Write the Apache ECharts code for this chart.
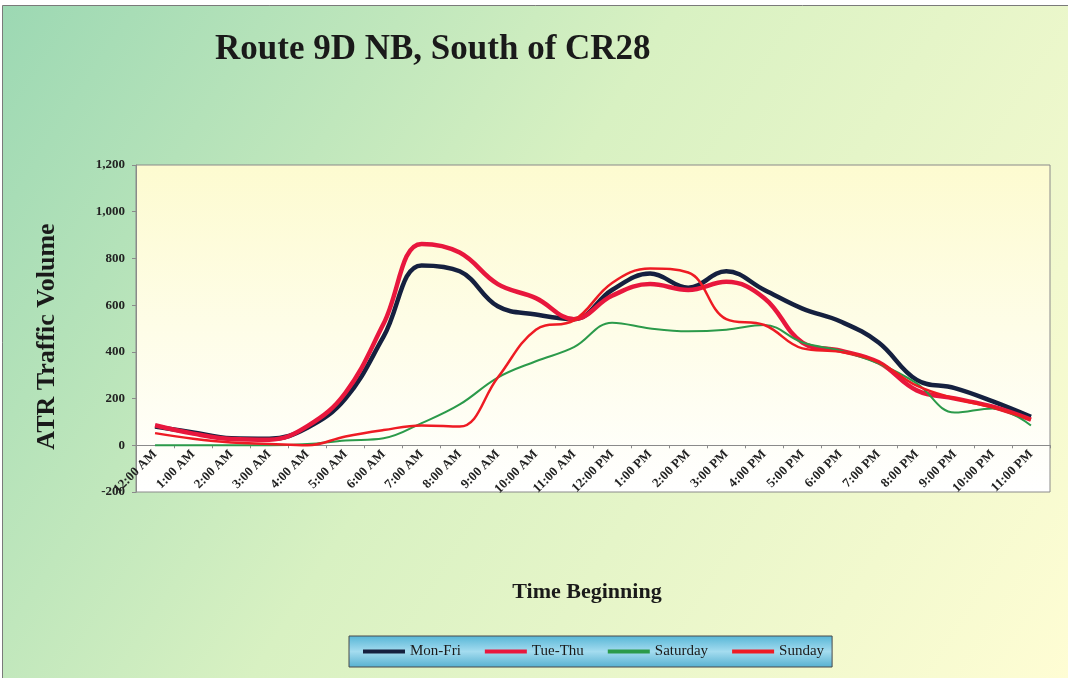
<!DOCTYPE html>
<html>
<head>
<meta charset="utf-8">
<title>Route 9D NB, South of CR28</title>
<script src="https://cdn.jsdelivr.net/npm/echarts@6/dist/echarts.min.js"></script>
<style>
  html, body { margin: 0; padding: 0; background: #fff; }
  #main { width: 1068px; height: 678px; }
</style>
</head>
<body>
<div id="main"></div>
<script>
// 时间分类
let hours = [
  '12:00 AM', '1:00 AM', '2:00 AM', '3:00 AM', '4:00 AM', '5:00 AM',
  '6:00 AM', '7:00 AM', '8:00 AM', '9:00 AM', '10:00 AM', '11:00 AM',
  '12:00 PM', '1:00 PM', '2:00 PM', '3:00 PM', '4:00 PM', '5:00 PM',
  '6:00 PM', '7:00 PM', '8:00 PM', '9:00 PM', '10:00 PM', '11:00 PM'
]
let monFri = [80, 55, 30, 28, 75, 200, 465, 770, 745, 595, 560, 540, 665, 735, 675, 745, 665, 585, 530, 440, 280, 245, 188, 122]
let tueThu = [86, 50, 27, 24, 82, 225, 520, 862, 825, 690, 630, 540, 640, 690, 665, 700, 630, 440, 405, 355, 235, 200, 165, 110]
let saturday = [0, 0, 0, 0, 5, 20, 30, 95, 175, 290, 360, 420, 525, 500, 488, 495, 515, 440, 405, 350, 265, 140, 158, 85]
let sunday = [52, 28, 12, 6, 0, 38, 65, 85, 80, 290, 495, 535, 695, 757, 740, 540, 515, 415, 400, 355, 255, 200, 162, 110]
let yTicks = { min: -200, max: 1200, step: 200 }

let font = '"Liberation Serif", "Times New Roman", serif'
let chart = echarts.init(document.getElementById('main'))

let line = (name, data, color, width) => ({
  name: name,
  type: 'line',
  smooth: 0.4,
  symbol: 'none',
  data: data,
  lineStyle: { color: color, width: width },
  itemStyle: { color: color }
})

// 网格高度与 0 线位置
let gridTop = 165
let gridBottom = 186
let plotH = 678 - gridTop - gridBottom
let zeroOffset = plotH * (0 - yTicks.min) / (yTicks.max - yTicks.min)

let option = {
  animation: false,
  textStyle: { fontFamily: font },
  graphic: [
    {
      type: 'rect',
      z: -10,
      silent: true,
      shape: { x: 2.5, y: 5.5, width: 1070, height: 680 },
      style: {
        fill: new echarts.graphic.LinearGradient(0, 0, 1, 1, [
          { offset: 0, color: '#9cd8b3' },
          { offset: 0.45, color: '#d8f1c2' },
          { offset: 1, color: '#fffdd4' }
        ]),
        stroke: '#7a7a7a',
        lineWidth: 1
      }
    }
  ],
  title: {
    text: 'Route 9D NB, South of CR28',
    left: 210,
    top: 27,
    textStyle: {
      fontFamily: font,
      fontSize: 35,
      fontWeight: 'bold',
      color: '#1a1a1a'
    }
  },
  legend: {
    left: 349,
    top: 636,
    padding: [8, 8, 8, 14],
    itemGap: 24,
    itemWidth: 42,
    itemHeight: 4,
    icon: 'rect',
    borderColor: '#4a4a4a',
    borderWidth: 1,
    backgroundColor: new echarts.graphic.LinearGradient(0, 0, 0, 1, [
      { offset: 0, color: '#55b5d6' },
      { offset: 0.5, color: '#a4dcef' },
      { offset: 1, color: '#55b0d0' }
    ]),
    textStyle: { fontFamily: font, fontSize: 15, color: '#1a1a1a' },
    data: ['Mon-Fri', 'Tue-Thu', 'Saturday', 'Sunday']
  },
  grid: {
    left: 136,
    right: 18,
    top: gridTop,
    bottom: gridBottom,
    show: true,
    borderColor: '#8a8a8a',
    borderWidth: 1,
    backgroundColor: new echarts.graphic.LinearGradient(0, 0, 0, 1, [
      { offset: 0, color: '#fdfbd0' },
      { offset: 1, color: '#ffffff' }
    ])
  },
  xAxis: {
    type: 'category',
    data: hours,
    boundaryGap: true,
    // 轴线、刻度和标签都放在 0 线上
    offset: -zeroOffset,
    name: 'Time Beginning',
    nameLocation: 'middle',
    nameGap: 136,
    nameTextStyle: { fontFamily: font, fontSize: 22, fontWeight: 'bold', color: '#1a1a1a', padding: [0, 12, 0, 0] },
    axisLine: { onZero: false, lineStyle: { color: '#8a8a8a', width: 1 } },
    axisTick: { show: true, length: 3, lineStyle: { color: '#8a8a8a' } },
    axisLabel: {
      rotate: 45,
      interval: 0,
      margin: 7,
      fontFamily: font,
      fontSize: 13,
      fontWeight: 'bold',
      color: '#222'
    },
    splitLine: { show: false }
  },
  yAxis: {
    type: 'value',
    min: yTicks.min,
    max: yTicks.max,
    interval: yTicks.step,
    name: 'ATR Traffic Volume',
    nameLocation: 'middle',
    nameGap: 76,
    nameTextStyle: { fontFamily: font, fontSize: 26, fontWeight: 'bold', color: '#1a1a1a', padding: [0, 16, 0, 0] },
    axisLine: { show: true, lineStyle: { color: '#8a8a8a' } },
    axisTick: { show: true, length: 4, lineStyle: { color: '#8a8a8a' } },
    axisLabel: {
      margin: 11,
      fontFamily: font,
      fontSize: 13,
      fontWeight: 'bold',
      color: '#222',
      formatter: (v) => v.toLocaleString('en-US')
    },
    splitLine: { show: false }
  },
  series: [
    line('Mon-Fri', monFri, '#15203f', 4.5),
    line('Tue-Thu', tueThu, '#e8173d', 4.5),
    line('Saturday', saturday, '#2b9a4a', 2),
    line('Sunday', sunday, '#ee1b24', 2.5)
  ]
}
chart.setOption(option)
</script>
</body>
</html>
